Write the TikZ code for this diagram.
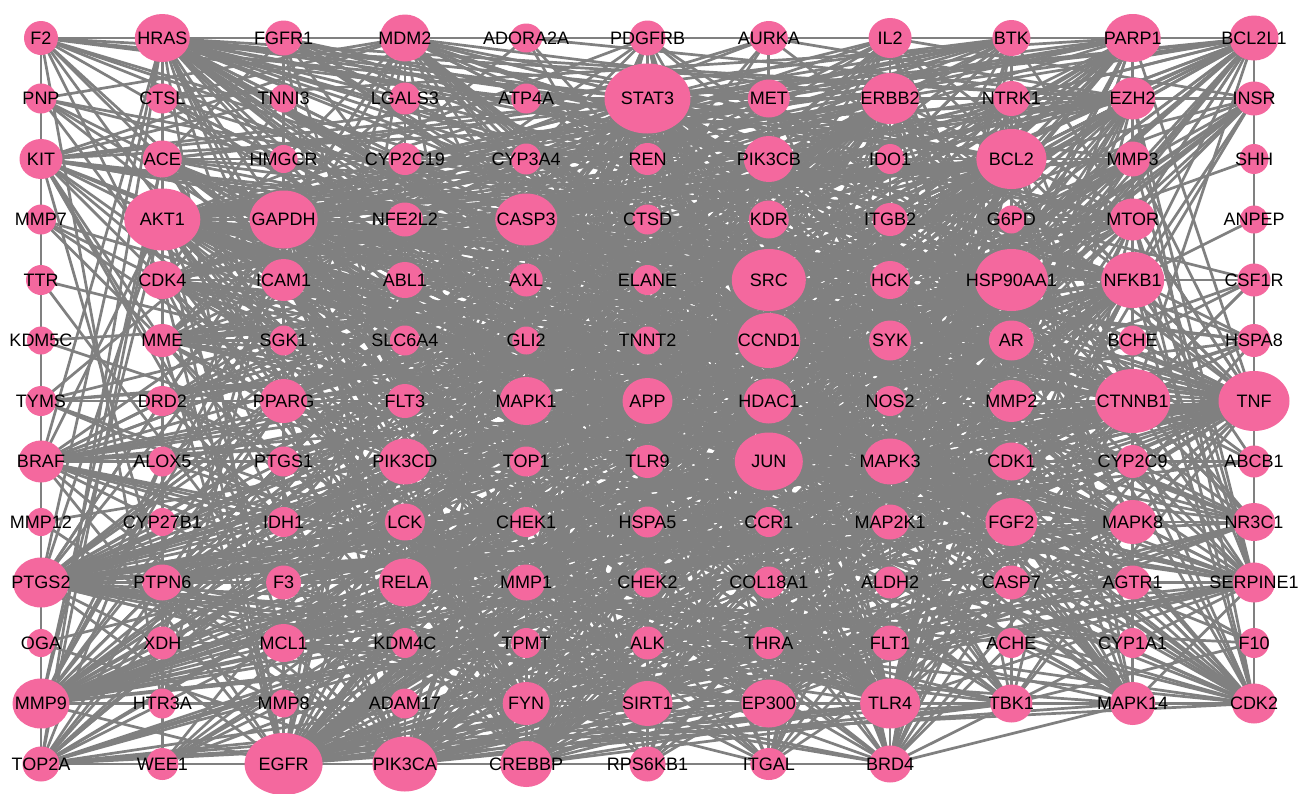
\documentclass[tikz,border=0pt]{standalone}
\usepackage{fontspec}
\setmainfont{Liberation Sans}
\usetikzlibrary{shapes.geometric,backgrounds}
\definecolor{genepink}{RGB}{244,104,158}
\definecolor{linkgray}{RGB}{128,128,128}
\newcommand{\degscale}{1.6}

\begin{document}
\begin{tikzpicture}[x=1pt, y=-1pt,
    gene/.style={ellipse, fill=genepink, draw=none, inner sep=0pt},
    genelabel/.style={font=\fontsize{18}{20}\selectfont, text=black, inner sep=0pt},
    link/.style={draw=linkgray, line width=2.7pt}
]
\useasboundingbox (0,0) rectangle (1299,793);
\gdef\wtotal{0}
% grid of 11 columns, filled row by row: name/width/height
\foreach \gname/\gwd/\ght [count=\k] in {
    F2/34/34, HRAS/55/48, FGFR1/37/35, MDM2/50/47, ADORA2A/32/29, PDGFRB/36/35, AURKA/38/34, IL2/43/40, BTK/38/36, PARP1/56/48, BCL2L1/49/45,
    PNP/31/30, CTSL/32/30, TNNI3/28/28, LGALS3/31/32, ATP4A/30/30, STAT3/86/70, MET/42/38, ERBB2/58/51, NTRK1/37/35, EZH2/45/42, INSR/37/34,
    KIT/43/40, ACE/39/37, HMGCR/28/28, CYP2C19/33/32, CYP3A4/30/31, REN/33/32, PIK3CB/50/46, IDO1/29/30, BCL2/70/60, MMP3/35/35, SHH/29/30,
    MMP7/30/30, AKT1/76/62, GAPDH/68/58, NFE2L2/36/34, CASP3/62/52, CTSD/30/30, KDR/40/38, ITGB2/35/33, G6PD/28/28, MTOR/46/42, ANPEP/28/28,
    TTR/30/30, CDK4/43/38, ICAM1/45/42, ABL1/38/36, AXL/33/33, ELANE/30/30, SRC/74/62, HCK/40/38, HSP90AA1/73/62, NFKB1/63/56, CSF1R/33/33,
    KDM5C/28/28, MME/37/33, SGK1/28/30, SLC6A4/30/30, GLI2/28/28, TNNT2/28/28, CCND1/63/55, SYK/42/40, AR/45/40, BCHE/28/30, HSPA8/33/33,
    TYMS/31/30, DRD2/33/30, PPARG/47/44, FLT3/36/34, MAPK1/53/48, APP/50/46, HDAC1/50/45, NOS2/32/30, MMP2/46/42, CTNNB1/75/64, TNF/71/60,
    BRAF/45/42, ALOX5/28/30, PTGS1/32/30, PIK3CD/52/46, TOP1/33/30, TLR9/35/33, JUN/68/58, MAPK3/52/46, CDK1/43/38, CYP2C9/33/33, ABCB1/32/32,
    MMP12/28/28, CYP27B1/28/28, IDH1/32/30, LCK/40/37, CHEK1/32/30, HSPA5/32/31, CCR1/30/30, MAP2K1/38/35, FGF2/52/48, MAPK8/48/44, NR3C1/42/38,
    PTGS2/56/50, PTPN6/40/36, F3/35/34, RELA/52/48, MMP1/38/36, CHEK2/30/30, COL18A1/32/32, ALDH2/32/32, CASP7/36/34, AGTR1/36/34, SERPINE1/42/40,
    OGA/28/28, XDH/32/33, MCL1/43/38, KDM4C/28/30, TPMT/30/30, ALK/33/33, THRA/32/32, FLT1/37/35, ACHE/30/30, CYP1A1/30/30, F10/30/30,
    MMP9/57/50, HTR3A/28/30, MMP8/28/28, ADAM17/30/30, FYN/47/43, SIRT1/50/45, EP300/55/48, TLR4/60/50, TBK1/42/38, MAPK14/45/43, CDK2/44/40,
    TOP2A/37/35, WEE1/32/32, EGFR/78/62, PIK3CA/65/55, CREBBP/52/46, RPS6KB1/36/35, ITGAL/37/32, BRD4/42/37}{
  \pgfmathtruncatemacro\gcol{mod(\k-1,11)}
  \pgfmathtruncatemacro\grow{floor((\k-1)/11)}
  \node[gene, minimum width=\gwd pt, minimum height=\ght pt] (n\k) at (41+121.3*\gcol, 38+60.5*\grow) {};
  \node[genelabel] (t\k) at (n\k) {\gname};
  \pgfmathsetmacro\wk{max(\gwd-27,1)}
  \expandafter\xdef\csname gw\k\endcsname{\wk}
  \pgfmathsetmacro\wnew{\wtotal+\wk}
  \xdef\wtotal{\wnew}
}
\begin{scope}[on background layer]
\fill[white] (0,0) rectangle (1299,793);
% interactions, denser between the larger nodes
\pgfmathsetseed{2024}
\foreach \i in {1,...,139}{
  \pgfmathtruncatemacro\jfirst{\i+1}
  \foreach \j in {\jfirst,...,140}{
    \pgfmathtruncatemacro\hit{rnd < \degscale*\csname gw\i\endcsname*\csname gw\j\endcsname/\wtotal}
    \ifnum\hit=1 \draw[link] (n\i.center) -- (n\j.center);\fi
  }
}
\draw[link] (n1) -- (n133);
\draw[link] (n2) -- (n11);
\draw[link] (n133) -- (n140);
\draw[link] (n11) -- (n110);
\draw[link] (n13) -- (n134);
\end{scope}
\end{tikzpicture}
\end{document}
